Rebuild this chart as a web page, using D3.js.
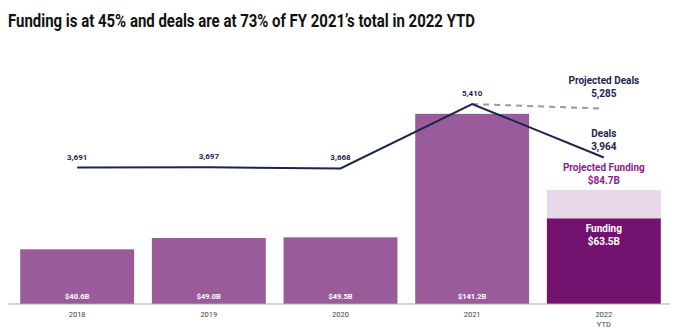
<!DOCTYPE html>
<html>
<head>
<meta charset="utf-8">
<script src="https://cdn.jsdelivr.net/npm/d3@7"></script>
<style>
  body { margin: 0; background: #fff; }
  svg { display: block; font-family: Roboto, "Noto Sans", sans-serif; }
</style>
</head>
<body>
<svg id="chart" width="680" height="332"></svg>
<script>
const years = ["2018", "2019", "2020", "2021", "2022"];
const funding = [40.6, 49.0, 49.5, 141.2, 63.5];
const projectedFunding = 84.7;
const deals = [3691, 3697, 3668, 5410, 3964];
const projectedDeals = 5285;
const fundingLabels = ["$40.6B", "$49.0B", "$49.5B", "$141.2B", "$63.5B"];

const svg = d3.select("#chart");
const baseY = 304;

const x = d3.scaleBand().domain(years).range([11, 670]).paddingInner(0.135).paddingOuter(0.07);
const yFund = d3.scaleLinear().domain([0, 196]).range([baseY, 40]);
const yDeals = d3.scaleLinear().domain([0, 7141]).range([baseY, 40]);

// title
svg.append("text")
    .attr("x", 8).attr("y", 27)
    .attr("font-size", 18.5).attr("font-weight", 700)
    .attr("fill", "#111")
    .attr("textLength", 467)
    .attr("lengthAdjust", "spacingAndGlyphs")
    .text("Funding is at 45% and deals are at 73% of FY 2021\u2019s total in 2022 YTD");

// projected funding bar (behind)
svg.append("rect")
    .attr("x", x("2022")).attr("width", x.bandwidth())
    .attr("y", yFund(projectedFunding))
    .attr("height", baseY - yFund(projectedFunding))
    .attr("fill", "#e8d8e8");

// bars
svg.selectAll(".bar")
    .data(years)
    .join("rect")
    .attr("class", "bar")
    .attr("x", d => x(d))
    .attr("width", x.bandwidth())
    .attr("y", (d, i) => yFund(funding[i]))
    .attr("height", (d, i) => baseY - yFund(funding[i]))
    .attr("fill", (d, i) => i === 4 ? "#73136f" : "#9a5b9b");

// bar value labels
svg.selectAll(".bar-label")
    .data(years.slice(0, 4))
    .join("text")
    .attr("class", "bar-label")
    .attr("x", d => x(d) + x.bandwidth() / 2)
    .attr("y", 299)
    .attr("text-anchor", "middle")
    .attr("font-size", 7.5).attr("font-weight", 700)
    .attr("fill", "#fff")
    .text((d, i) => fundingLabels[i]);

// axis
svg.append("line")
    .attr("x1", 8).attr("x2", 670)
    .attr("y1", baseY).attr("y2", baseY)
    .attr("stroke", "#aaa").attr("stroke-width", 1.2);

svg.selectAll(".tick-label")
    .data(years)
    .join("text")
    .attr("class", "tick-label")
    .attr("x", d => x(d) + x.bandwidth() / 2)
    .attr("y", 317)
    .attr("text-anchor", "middle")
    .attr("font-size", 7.5)
    .attr("fill", "#444")
    .text(d => d);

svg.append("text")
    .attr("x", x("2022") + x.bandwidth() / 2)
    .attr("y", 327)
    .attr("text-anchor", "middle")
    .attr("font-size", 7.5)
    .attr("fill", "#444")
    .text("YTD");

// projected deals dashed line
const cx = d => x(d) + x.bandwidth() / 2;
svg.append("line")
    .attr("x1", cx("2021")).attr("y1", yDeals(deals[3]))
    .attr("x2", cx("2022")).attr("y2", yDeals(projectedDeals))
    .attr("stroke", "#999").attr("stroke-width", 2)
    .attr("stroke-dasharray", "6,5");

// deals line
const line = d3.line()
    .x((d, i) => cx(years[i]))
    .y(d => yDeals(d));

svg.append("path")
    .datum(deals)
    .attr("d", line)
    .attr("fill", "none")
    .attr("stroke", "#1c2550")
    .attr("stroke-width", 2);

svg.selectAll(".deal-label")
    .data(deals.slice(0, 4))
    .join("text")
    .attr("class", "deal-label")
    .attr("x", (d, i) => cx(years[i]))
    .attr("y", d => yDeals(d) - 8)
    .attr("text-anchor", "middle")
    .attr("font-size", 8).attr("font-weight", 700)
    .attr("fill", "#1c2550")
    .text(d => d3.format(",")(d));

// 2022 annotations
const c22 = cx("2022");
const note = (lines, y, color) => {
    const t = svg.append("text")
        .attr("x", c22).attr("y", y)
        .attr("text-anchor", "middle")
        .attr("font-size", 10).attr("font-weight", 700)
        .attr("fill", color);
    lines.forEach((s, i) => {
        t.append("tspan").attr("x", c22).attr("dy", i === 0 ? 0 : 13).text(s);
    });
};
note(["Projected Deals", d3.format(",")(projectedDeals)], 84, "#1c2550");
note(["Deals", d3.format(",")(deals[4])], 137, "#1c2550");
note(["Projected Funding", "$" + projectedFunding + "B"], 171, "#8e1c8a");
note(["Funding", fundingLabels[4]], 232, "#fff");
</script>
</body>
</html>
